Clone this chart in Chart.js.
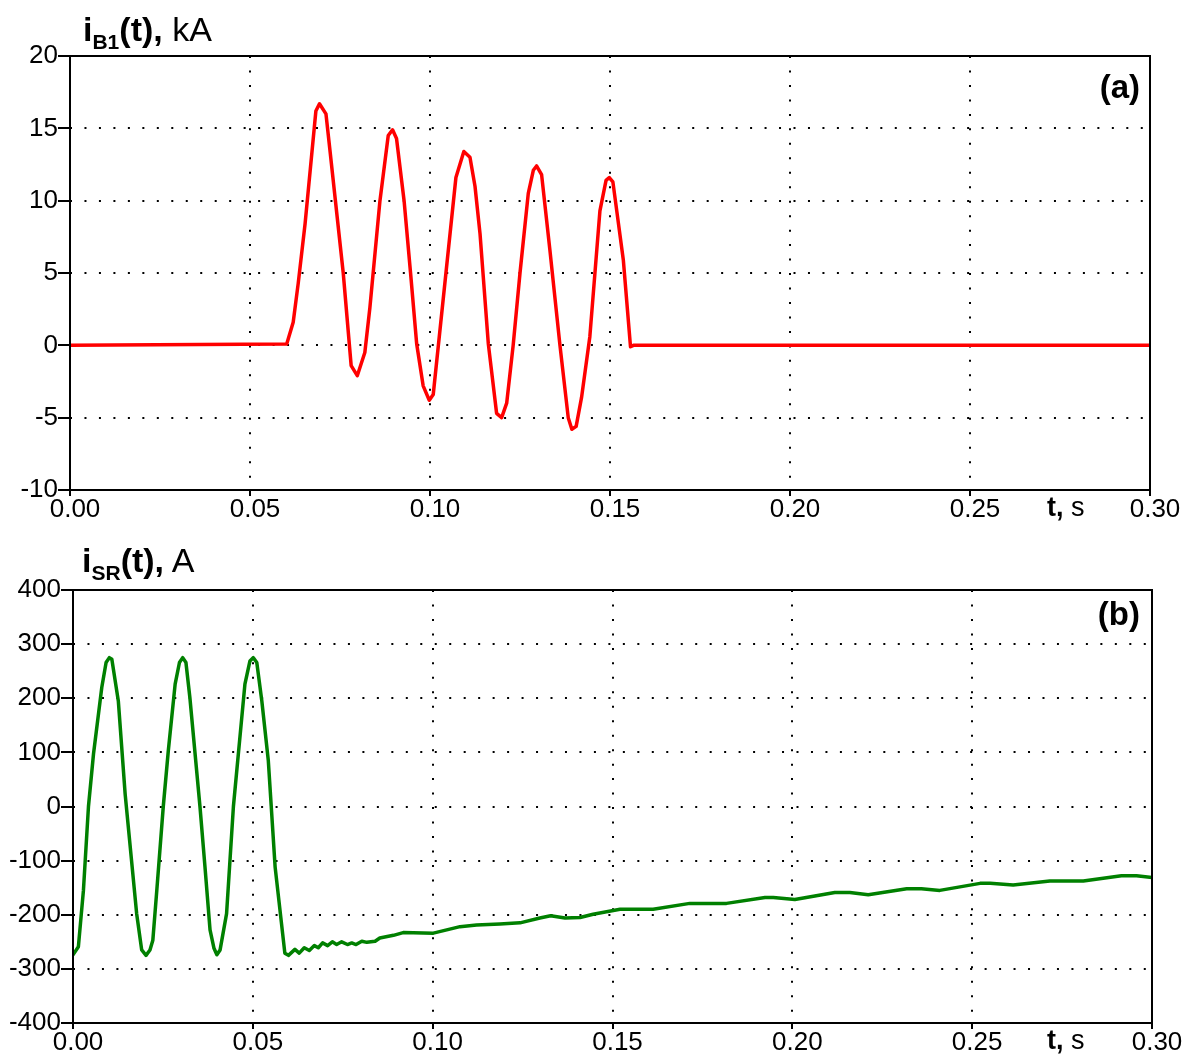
<!DOCTYPE html>
<html lang="en">
<head>
    <meta charset="UTF-8">
    <title>Currents</title>
    <script src="https://cdn.jsdelivr.net/npm/chart.js"></script>
    <style>
        body { margin: 0; background: #fff; font-family: "Liberation Sans", Arial, sans-serif; }
        .wrap { position: relative; width: 1198px; height: 1057px; }
        .box { position: absolute; left: 0; width: 1198px; }
        .lbl { position: absolute; white-space: nowrap; color: #000; line-height: 1; }
        .lbl sub { font-size: 21px; vertical-align: -8px; line-height: 0; }
    </style>
</head>
<body>
<div class="wrap">
    <div class="box" style="top:0; height:530px;"><canvas id="chartA"></canvas></div>
    <div class="box" style="top:530px; height:527px;"><canvas id="chartB"></canvas></div>

    <!-- axis titles and panel marks -->
    <div class="lbl" style="left:83px; top:12px; font-size:34px;"><b>i<sub>B1</sub>(t),</b> kA</div>
    <div class="lbl" style="right:58px; top:70px; font-size:33px;"><b>(a)</b></div>
    <div class="lbl" style="left:1047px; top:494px; font-size:27px;"><b>t,</b> s</div>

    <div class="lbl" style="left:82px; top:543px; font-size:34px;"><b>i<sub>SR</sub>(t),</b> A</div>
    <div class="lbl" style="right:58px; top:597px; font-size:33px;"><b>(b)</b></div>
    <div class="lbl" style="left:1047px; top:1027px; font-size:27px;"><b>t,</b> s</div>
</div>

<script>
// time axis (s)
const xTickValues = [0, 0.05, 0.10, 0.15, 0.20, 0.25, 0.30];
const xTickLabels = ['0.00', '0.05', '0.10', '0.15', '0.20', '0.25', '0.30'];

// (a) breaker current, kA
const yTicksA = [-10, -5, 0, 5, 10, 15, 20];
const timeA = [0, 0.0602, 0.0620, 0.0634, 0.0653, 0.0683, 0.0693, 0.0711, 0.0722, 0.0759,
    0.0781, 0.0798, 0.0819, 0.0833, 0.0861, 0.0884, 0.0896, 0.0907, 0.0928, 0.0946,
    0.0963, 0.0981, 0.0998, 0.1009, 0.1072, 0.1094, 0.1111, 0.1125, 0.1139, 0.1162,
    0.1185, 0.1199, 0.1213, 0.1231, 0.1250, 0.1273, 0.1287, 0.1296, 0.1310, 0.1333,
    0.1361, 0.1384, 0.1394, 0.1406, 0.1421, 0.1444, 0.1472, 0.1489, 0.1498, 0.1508,
    0.1537, 0.1557, 0.1565, 0.30];
const currentA = [0, 0.1, 1.6, 4.3, 8.4, 16.2, 16.7, 16.0, 13.5, 5.0,
    -1.4, -2.1, -0.5, 2.6, 10.0, 14.5, 14.9, 14.3, 10.0, 5.0,
    0.1, -2.8, -3.8, -3.4, 11.6, 13.4, 13.0, 11.0, 7.7, 0.1,
    -4.7, -5.0, -4.0, 0, 5.0, 10.5, 12.1, 12.4, 11.8, 6.6,
    0, -5.0, -5.8, -5.6, -3.6, 0.6, 9.3, 11.4, 11.6, 11.3,
    5.9, -0.1, 0, 0];

// (b) reactor current, A
const yTicksB = [-400, -300, -200, -100, 0, 100, 200, 300, 400];
const timeB = [0.0, 0.0015, 0.0029, 0.0043, 0.0057, 0.0080, 0.0092, 0.0101, 0.0108, 0.0126,
    0.0145, 0.0177, 0.0191, 0.0203, 0.0214, 0.0222, 0.0233, 0.0251, 0.0265, 0.0284,
    0.0296, 0.0305, 0.0314, 0.0325, 0.0353, 0.0367, 0.0381, 0.0392, 0.0400, 0.0409,
    0.0427, 0.0446, 0.0478, 0.0492, 0.0501, 0.0511, 0.0525, 0.0543, 0.0562, 0.0589,
    0.0599, 0.0617, 0.0629, 0.0643, 0.0657, 0.0671, 0.0682, 0.0694, 0.0708, 0.0721,
    0.0733, 0.0747, 0.0763, 0.0775, 0.0787, 0.0803, 0.0817, 0.0840, 0.0853, 0.0891,
    0.0918, 0.1002, 0.1076, 0.1122, 0.1187, 0.1243, 0.1298, 0.1328, 0.1368, 0.1410,
    0.1446, 0.1521, 0.1613, 0.1715, 0.1817, 0.1924, 0.1947, 0.2007, 0.2118, 0.2160,
    0.2211, 0.2318, 0.2359, 0.2410, 0.2522, 0.2550, 0.2614, 0.2716, 0.2809, 0.2915,
    0.2957, 0.3000];
const currentB = [-274, -259, -155, 0, 97, 220, 266, 275, 272, 195,
    23, -198, -265, -275, -265, -247, -155, 0, 103, 226,
    266, 275, 266, 201, 0, -112, -228, -262, -274, -265,
    -198, 0, 226, 269, 275, 266, 195, 85, -112, -271,
    -275, -264, -271, -261, -266, -257, -261, -252, -257, -250,
    -255, -250, -255, -252, -255, -249, -251, -249, -243, -238,
    -233, -234, -222, -219, -217, -215, -206, -202, -206, -205,
    -199, -190, -190, -179, -179, -168, -168, -172, -159, -159,
    -163, -152, -152, -155, -142, -142, -145, -137.5, -137.5, -128,
    -128, -131];

const FONT = { family: '"Liberation Sans", Arial, sans-serif', size: 26, lineHeight: 1 };

// solid frame around the plot area
const frame = {
    id: 'frame',
    afterDatasetsDraw(chart) {
        const a = chart.chartArea;
        const ctx = chart.ctx;
        ctx.save();
        ctx.lineWidth = 2;
        ctx.strokeStyle = '#000';
        ctx.strokeRect(a.left, a.top, a.right - a.left, a.bottom - a.top);
        ctx.restore();
    }
};

function makeChart(id, times, values, color, yTicks, opts) {
    const points = times.map((t, i) => ({ x: t, y: values[i] }));
    return new Chart(document.getElementById(id), {
        type: 'line',
        data: {
            datasets: [{
                data: points,
                borderColor: color,
                borderWidth: 3.5,
                borderJoinStyle: 'round',
                borderCapStyle: 'round',
                pointRadius: 0,
                tension: 0,
                fill: false
            }]
        },
        options: {
            responsive: true,
            maintainAspectRatio: false,
            animation: false,
            layout: { padding: { top: opts.top, right: opts.right, left: 0, bottom: 0 } },
            plugins: { legend: { display: false }, tooltip: { enabled: false } },
            scales: {
                x: {
                    type: 'linear',
                    min: 0,
                    max: 0.30,
                    afterBuildTicks: s => { s.ticks = xTickValues.map(v => ({ value: v })); },
                    afterFit: s => { s.height = opts.xHeight; },
                    ticks: {
                        autoSkip: false,
                        maxRotation: 0,
                        color: '#000',
                        font: FONT,
                        padding: 1,
                        labelOffset: 5,
                        callback: (v, i) => xTickLabels[i]
                    },
                    grid: { color: '#000', lineWidth: 2, tickLength: 6, tickColor: '#000', tickWidth: 2, tickBorderDash: [] },
                    border: { display: false, dash: [2, 12.47] }
                },
                y: {
                    min: yTicks[0],
                    max: yTicks[yTicks.length - 1],
                    afterBuildTicks: s => { s.ticks = yTicks.map(v => ({ value: v })); },
                    afterFit: s => { s.width = opts.yWidth; },
                    ticks: {
                        color: '#000',
                        font: FONT,
                        padding: 0,
                        callback: v => String(v)
                    },
                    grid: { color: '#000', lineWidth: 2, tickLength: 12, tickColor: '#000', tickWidth: 2, tickBorderDash: [] },
                    border: { display: false, dash: [2, 12.47] }
                }
            }
        },
        plugins: [frame]
    });
}

makeChart('chartA', timeA, currentA, '#ff0000', yTicksA, { top: 56, right: 48, xHeight: 40, yWidth: 70 });
makeChart('chartB', timeB, currentB, '#008000', yTicksB, { top: 60, right: 46, xHeight: 34, yWidth: 73 });
</script>
</body>
</html>
